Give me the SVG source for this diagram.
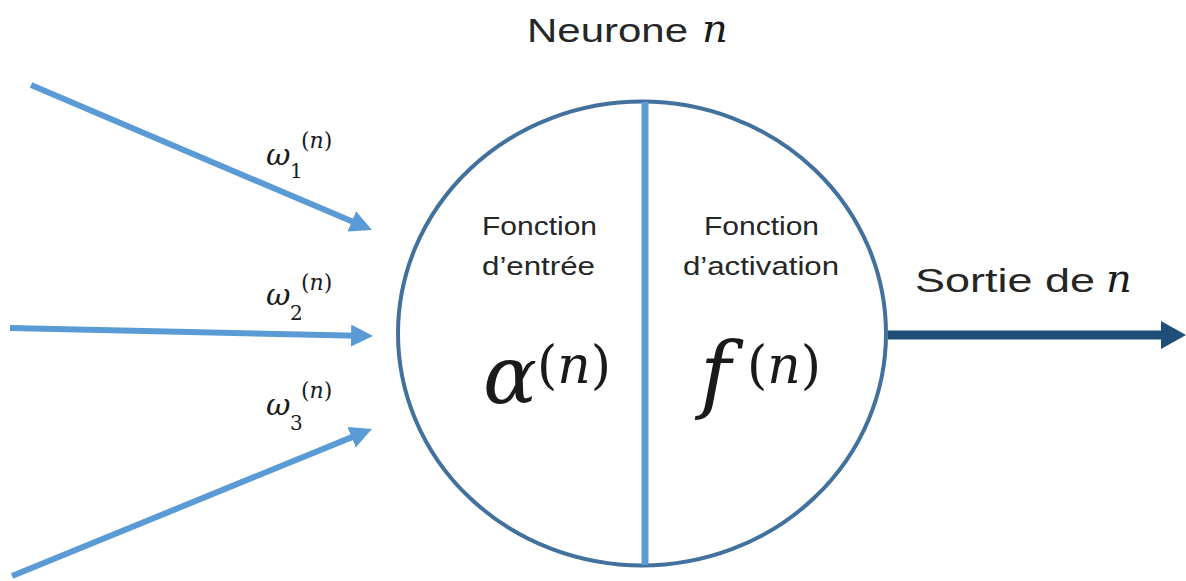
<svg xmlns="http://www.w3.org/2000/svg" width="1186" height="581" viewBox="0 0 1186 581">
<style>
.lbl{font-family:"Liberation Sans","Open Sans",sans-serif;fill:#262626;}
.math{font-family:"DejaVu Serif","Liberation Serif",serif;font-style:italic;fill:#1a1a1a;}
.mathup{font-family:"DejaVu Serif","Liberation Serif",serif;fill:#1a1a1a;}
.in{stroke:#5B9BD5;stroke-width:6;fill:none;}
</style>
<defs>
<marker id="ah" markerUnits="userSpaceOnUse" markerWidth="22" markerHeight="22" refX="7" refY="11" orient="auto">
<path d="M0,0 L22,11 L0,22 z" fill="#5B9BD5"/>
</marker>
</defs>
<rect width="1186" height="581" fill="#ffffff"/>
<g id="title">
<text class="lbl" x="527" y="42" font-size="33" textLength="161" lengthAdjust="spacingAndGlyphs" fill="#111">Neurone</text>
<text class="math" x="702" y="42" font-size="40">n</text>
</g>
<g id="neuron">
<ellipse cx="642" cy="333.5" rx="244" ry="232" fill="#ffffff" stroke="#41719C" stroke-width="4"/>
<line x1="645" y1="102" x2="645" y2="565" stroke="#5B9BD5" stroke-width="7"/>
</g>
<g id="input-function">
<text class="lbl" x="482" y="235" font-size="25" textLength="115" lengthAdjust="spacingAndGlyphs">Fonction</text>
<text class="lbl" x="482" y="275" font-size="25" textLength="113" lengthAdjust="spacingAndGlyphs">d’entrée</text>
<text class="math" x="483" y="403" font-size="80">α</text>
<text class="mathup" x="537" y="383" font-size="52">(<tspan font-style="italic">n</tspan>)</text>
</g>
<g id="activation-function">
<text class="lbl" x="704" y="235" font-size="25" textLength="115" lengthAdjust="spacingAndGlyphs">Fonction</text>
<text class="lbl" x="683" y="275" font-size="25" textLength="156" lengthAdjust="spacingAndGlyphs">d’activation</text>
<text class="math" x="700" y="402" font-size="84">f</text>
<text class="mathup" x="747" y="383" font-size="52">(<tspan font-style="italic">n</tspan>)</text>
</g>
<g id="output">
<text class="lbl" x="915" y="292" font-size="34" textLength="180" lengthAdjust="spacingAndGlyphs" fill="#111">Sortie de</text>
<text class="math" x="1106" y="292" font-size="40">n</text>
</g>
<g id="weights">
<text class="math" x="266" y="165" font-size="30">ω</text>
<text class="mathup" x="290" y="178" font-size="20">1</text>
<text class="mathup" x="301" y="148" font-size="22">(<tspan font-style="italic">n</tspan>)</text>
<text class="math" x="266" y="305" font-size="30">ω</text>
<text class="mathup" x="290" y="320" font-size="20">2</text>
<text class="mathup" x="301" y="290" font-size="22">(<tspan font-style="italic">n</tspan>)</text>
<text class="math" x="266" y="415" font-size="30">ω</text>
<text class="mathup" x="290" y="430" font-size="20">3</text>
<text class="mathup" x="301" y="398" font-size="22">(<tspan font-style="italic">n</tspan>)</text>
</g>
<g id="connectors">
<line class="in" x1="31" y1="85" x2="358.2" y2="224.1" marker-end="url(#ah)"/>
<line class="in" x1="10" y1="328" x2="358" y2="335.7" marker-end="url(#ah)"/>
<line class="in" x1="12" y1="576" x2="358.1" y2="434.6" marker-end="url(#ah)"/>
<line x1="888" y1="335" x2="1164" y2="335" stroke="#1F4E79" stroke-width="9"/>
<path d="M1161,321 L1186,335 L1161,349 z" fill="#1F4E79"/>
</g>
</svg>
